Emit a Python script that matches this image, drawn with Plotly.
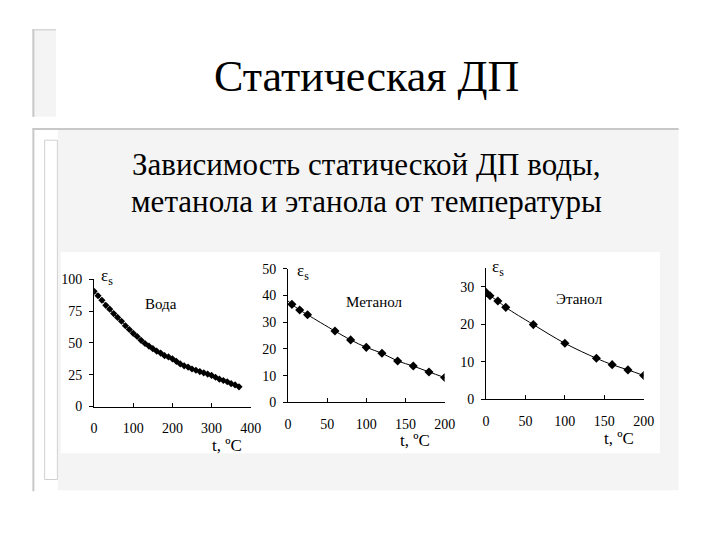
import plotly.graph_objects as go

# ---------------- data ----------------
water_t = [0, 10, 20, 30, 40, 50, 60, 70, 80, 90, 100, 110, 120, 130, 140, 150, 160, 170, 180,
           190, 200, 210, 220, 230, 240, 250, 260, 270, 280, 290, 300, 310, 320, 330, 340, 350, 360, 370]
water_eps = [90.5, 87, 83.5, 79.5, 76.5, 73, 70, 67, 63.5, 60.5, 57.5, 55, 52, 49.5, 47.5, 45.5, 43.5,
             42, 40, 39, 37.5, 35.5, 33.5, 32, 31, 29.5, 28.5, 27.5, 26.5, 25.5, 24.5, 23, 21.5, 20.5,
             19.5, 18, 17, 15.5]

meth_t = [5, 15, 25, 60, 80, 100, 120, 140, 160, 180, 200]
meth_eps = [36.7, 34.6, 32.8, 26.7, 23.4, 20.6, 18.4, 15.5, 13.6, 11.4, 9.3]
meth_line_t = [0, 5, 15, 25, 60, 80, 100, 120, 140, 160, 180, 200]
meth_line_eps = [38.0, 36.7, 34.6, 32.8, 26.7, 23.4, 20.6, 18.4, 15.5, 13.6, 11.4, 9.3]

eth_t = [0, 5, 15, 25, 60, 100, 140, 160, 180, 200]
eth_eps = [28.5, 27.6, 26.2, 24.5, 19.9, 14.9, 10.9, 9.2, 7.8, 6.3]

water_xticks = [0, 100, 200, 300, 400]
water_yticks = [0, 25, 50, 75, 100]
meth_xticks = [0, 50, 100, 150, 200]
meth_yticks = [0, 10, 20, 30, 40, 50]
eth_xticks = [0, 50, 100, 150, 200]
eth_yticks = [0, 10, 20, 30]

title = "Статическая ДП"
subtitle_lines = ["Зависимость статической ДП воды,", "метанола и этанола от температуры"]
names = ["Вода", "Метанол", "Этанол"]

W, H = 720, 540
SERIF = "Liberation Serif"


def px(x):
    return x / W


def py(y):
    return 1 - y / H


fig = go.Figure()

mk = dict(symbol="diamond", size=7, color="black")
fig.add_trace(go.Scatter(x=water_t, y=water_eps, mode="lines+markers",
                         line=dict(color="black", width=1),
                         marker=dict(symbol="diamond", size=5.5, color="black"),
                         xaxis="x", yaxis="y", showlegend=False))
fig.add_trace(go.Scatter(x=meth_line_t, y=meth_line_eps, mode="lines",
                         line=dict(color="black", width=1, shape="spline"),
                         xaxis="x2", yaxis="y2", showlegend=False))
fig.add_trace(go.Scatter(x=meth_t, y=meth_eps, mode="markers", marker=mk,
                         xaxis="x2", yaxis="y2", showlegend=False))
fig.add_trace(go.Scatter(x=eth_t, y=eth_eps, mode="lines+markers",
                         line=dict(color="black", width=1, shape="spline"), marker=mk,
                         xaxis="x3", yaxis="y3", showlegend=False))

tickfont = dict(family=SERIF, size=14, color="black")


def xa(dom, rng, ticks, anchor):
    return dict(domain=dom, range=rng, tickvals=ticks, showgrid=False, zeroline=False,
                showline=True, linecolor="black", linewidth=1, ticks="inside", ticklen=4,
                tickcolor="black", tickfont=tickfont, anchor=anchor, ticklabelstandoff=9,
                fixedrange=True)


def ya(dom, rng, ticks, anchor):
    return dict(domain=dom, range=rng, tickvals=ticks, showgrid=False, zeroline=False,
                showline=True, linecolor="black", linewidth=1, ticks="outside", ticklen=4,
                tickcolor="black", tickfont=tickfont, anchor=anchor, ticklabelstandoff=4,
                fixedrange=True)


layout = dict(
    width=W, height=H, margin=dict(l=0, r=0, t=0, b=0),
    paper_bgcolor="white", plot_bgcolor="rgba(0,0,0,0)",
    xaxis=xa([px(92), px(252)], [0, 400], water_xticks, "y"),
    yaxis=ya([py(411), py(280)], [0, 100], water_yticks, "x"),
    xaxis2=xa([px(290), px(450)], [0, 200], meth_xticks, "y2"),
    yaxis2=ya([py(406.7), py(269.3)], [0, 50], meth_yticks, "x2"),
    xaxis3=xa([px(492.3), px(653.3)], [0, 200], eth_xticks, "y3"),
    yaxis3=ya([py(403.3), py(268.5)], [0, 35], eth_yticks, "x3"),
)
fig.update_layout(**layout)

grey_fill = "#f4f4f4"
border = "#c8c8c8"
shapes = [
    # title bracket
    dict(type="rect", xref="paper", yref="paper", x0=px(29), x1=px(53), y0=py(113), y1=py(23),
         fillcolor=grey_fill, line=dict(width=0), layer="below"),
    dict(type="line", xref="paper", yref="paper", x0=px(30), x1=px(30), y0=py(113), y1=py(23),
         line=dict(color=border, width=2), layer="below"),
    dict(type="line", xref="paper", yref="paper", x0=px(29), x1=px(53), y0=py(23.5), y1=py(23.5),
         line=dict(color=border, width=1), layer="below"),
    # big content box
    dict(type="rect", xref="paper", yref="paper", x0=px(55), x1=px(689), y0=py(497), y1=py(126),
         fillcolor=grey_fill, line=dict(width=0), layer="below"),
    dict(type="line", xref="paper", yref="paper", x0=px(30), x1=px(30), y0=py(498), y1=py(125),
         line=dict(color=border, width=2), layer="below"),
    dict(type="line", xref="paper", yref="paper", x0=px(29), x1=px(689), y0=py(125.5), y1=py(125.5),
         line=dict(color=border, width=2), layer="below"),
    # inner bar
    dict(type="rect", xref="paper", yref="paper", x0=px(41.5), x1=px(54.5), y0=py(486), y1=py(137),
         fillcolor="white", line=dict(color="#d0d0d0", width=1), layer="below"),
    # chart picture background
    dict(type="rect", xref="paper", yref="paper", x0=px(58), x1=px(670), y0=py(459), y1=py(252),
         fillcolor="white", line=dict(width=0), layer="below"),
]
fig.update_layout(shapes=shapes)

ann = []
ann.append(dict(text=title, x=px(370), y=py(72), xref="paper", yref="paper", showarrow=False,
                font=dict(family=SERIF, size=44, color="black"), xanchor="center", yanchor="middle"))
for line_text, ly in zip(subtitle_lines, [162, 200]):
    ann.append(dict(text=line_text, x=px(370), y=py(ly), xref="paper", yref="paper", showarrow=False,
                    font=dict(family=SERIF, size=31, color="black"), xanchor="center", yanchor="middle"))

eps_pos = [(105, 278), (305, 273), (505, 268)]
t_pos = [(228, 451), (420, 446), (628, 444)]
name_pos = [(160, 305), (378, 303), (588, 300)]
for (ex, ey), (tx, ty), (nx, ny), nm in zip(eps_pos, t_pos, name_pos, names):
    ann.append(dict(text="ε<sub>s</sub>", x=px(ex), y=py(ey), xref="paper", yref="paper",
                    showarrow=False, font=dict(family=SERIF, size=17, color="black"),
                    xanchor="center", yanchor="middle"))
    ann.append(dict(text="t, ºC", x=px(tx), y=py(ty), xref="paper", yref="paper",
                    showarrow=False, font=dict(family=SERIF, size=17, color="black"),
                    xanchor="center", yanchor="middle"))
    ann.append(dict(text=nm, x=px(nx), y=py(ny), xref="paper", yref="paper",
                    showarrow=False, font=dict(family=SERIF, size=15, color="black"),
                    xanchor="center", yanchor="middle"))
fig.update_layout(annotations=ann)

fig.write_html("out.html")
